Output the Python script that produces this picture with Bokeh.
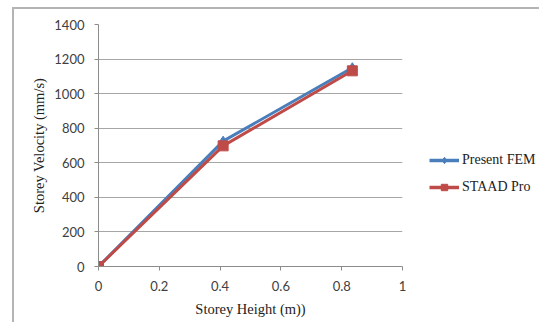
from bokeh.plotting import figure
from bokeh.layouts import row
from bokeh.models import Legend, LegendItem, Range1d, FixedTicker
from bokeh.embed import file_html
from bokeh.resources import INLINE

storey_height = [0.0, 0.41, 0.835]
present_fem = [0, 725, 1150]
staad_pro = [0, 698, 1132]
x_ticks = [0, 0.2, 0.4, 0.6, 0.8, 1]
y_ticks = [0, 200, 400, 600, 800, 1000, 1200, 1400]

blue = "#4a7ebb"
red = "#be4b48"

p = figure(width=394, height=313, output_backend="svg", toolbar_location=None,
           x_range=Range1d(0, 1), y_range=Range1d(0, 1400),
           min_border_left=84, min_border_top=15, min_border_right=6, min_border_bottom=56)
p.outline_line_color = None

p.xaxis.ticker = FixedTicker(ticks=x_ticks)
p.yaxis.ticker = FixedTicker(ticks=y_ticks)
p.xaxis.formatter.use_scientific = False
for ax in (p.xaxis[0], p.yaxis[0]):
    ax.axis_line_color = "#8c8c8c"
    ax.major_tick_line_color = "#8c8c8c"
    ax.major_tick_out = 4
    ax.major_tick_in = 0
    ax.minor_tick_line_color = None
    ax.major_label_text_font = "Lato"
    ax.major_label_text_font_size = "13px"
    ax.major_label_text_color = "#404040"
    ax.major_label_standoff = 10
    ax.axis_label_text_font = "Liberation Serif"
    ax.axis_label_text_font_size = "14.5px"
    ax.axis_label_text_font_style = "normal"
    ax.axis_label_text_color = "#222222"

p.xaxis.axis_label = "Storey Height (m))"
p.yaxis.axis_label = "Storey Velocity (mm/s)"
p.xaxis.axis_label_standoff = 7
p.yaxis.axis_label_standoff = 4
p.yaxis.major_label_orientation = "horizontal"

p.xgrid.grid_line_color = None
p.ygrid.grid_line_color = "#a6a6a6"
p.ygrid.grid_line_width = 1

p.line(storey_height, present_fem, line_color=blue, line_width=3)
p.scatter(storey_height, present_fem, marker="diamond", size=10,
          fill_color=blue, line_color=blue)
p.line(storey_height, staad_pro, line_color=red, line_width=3)
p.scatter(storey_height, staad_pro, marker="square", size=10,
          fill_color=red, line_color=red)

# legend panel (its ranges keep the series out of view; only the legend shows)
q = figure(width=131, height=313, output_backend="svg", toolbar_location=None,
           x_range=Range1d(10, 11), y_range=Range1d(10000, 10001),
           x_axis_location=None, y_axis_location=None,
           min_border_left=0, min_border_right=0, min_border_top=0, min_border_bottom=0)
q.outline_line_color = None
q.grid.visible = False
bl = q.line(storey_height, present_fem, line_color=blue, line_width=3.5)
bm = q.scatter(storey_height, present_fem, marker="diamond", size=9,
               fill_color=blue, line_color=blue)
rl = q.line(storey_height, staad_pro, line_color=red, line_width=3.5)
rm = q.scatter(storey_height, staad_pro, marker="square", size=11,
               fill_color=red, line_color=red)

legend = Legend(items=[LegendItem(label="Present FEM", renderers=[bl, bm]),
                       LegendItem(label="STAAD Pro", renderers=[rl, rm])],
                location=(21, 71), orientation="vertical")
legend.label_text_font = "Liberation Serif"
legend.label_text_font_size = "14px"
legend.label_text_color = "#222222"
legend.glyph_width = 30
legend.glyph_height = 16
legend.label_height = 16
legend.label_standoff = 3
legend.spacing = 11
legend.padding = 0
legend.margin = 0
legend.border_line_color = None
legend.background_fill_alpha = 0
q.add_layout(legend, "center")

layout = row(p, q)
layout.margin = (7, 0, 0, 12)
layout.styles = {"border-top": "2px solid #b4b4b4", "border-left": "2px solid #b4b4b4"}

open("out.html", "w").write(file_html(layout, INLINE))
